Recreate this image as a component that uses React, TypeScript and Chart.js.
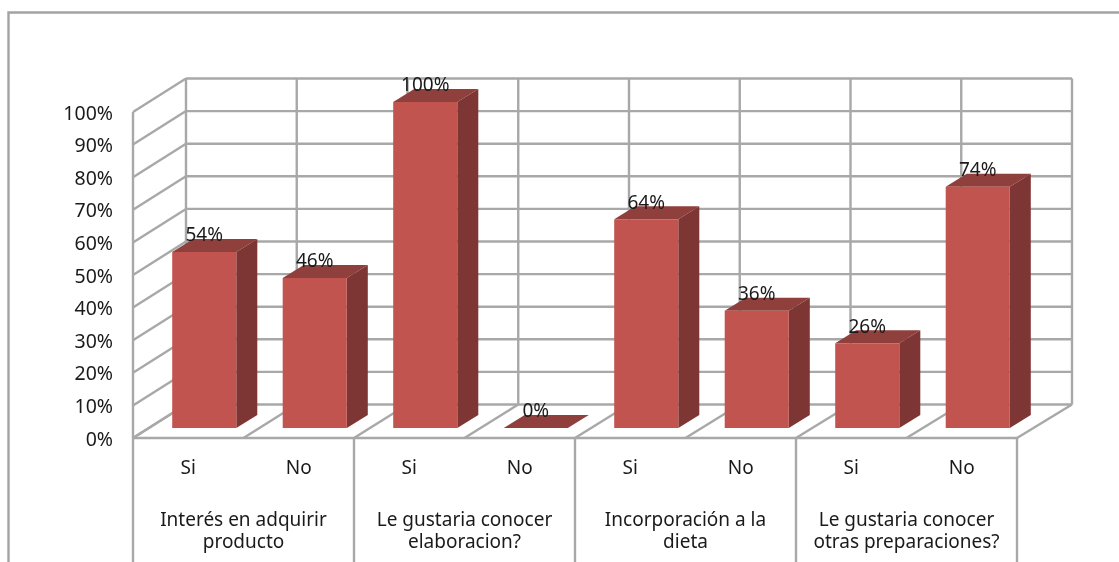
import React, { useEffect, useRef } from "react";
import { Chart, registerables } from "chart.js";

Chart.register(...registerables);

const categories = ["Si", "No", "Si", "No", "Si", "No", "Si", "No"];
const values = [54, 46, 100, 0, 64, 36, 26, 74];
const groups = [
  ["Interés en adquirir", "producto"],
  ["Le gustaria conocer", "elaboracion?"],
  ["Incorporación a la", "dieta"],
  ["Le gustaria conocer", "otras preparaciones?"],
];

const GRID = "#a8a8a8";
const WALL = { dxLeft: 53, dxRight: 55, dy: -33.5 };
const BAR_SHIFT = { dx: 16, dy: -10 };
const BAR_DEPTH = { dx: 21, dy: -13 };
const FONT = "'Noto Sans'";

const line = (c: CanvasRenderingContext2D, a: number, b: number, d: number, e: number) => {
  c.beginPath();
  c.moveTo(a, b);
  c.lineTo(d, e);
  c.stroke();
};

const scene = {
  id: "scene",
  beforeDraw(chart: any) {
    const c = chart.ctx;
    const { x, y } = chart.scales;
    const n = categories.length;
    const step = (x.right - x.left) / n;
    const backLeft = x.left + WALL.dxLeft;
    const backRight = x.right + WALL.dxRight;
    const backStep = (backRight - backLeft) / n;
    c.save();
    c.fillStyle = "#ffffff";
    c.fillRect(0, 0, chart.width, chart.height);
    c.strokeStyle = "#a3a3a3";
    c.lineWidth = 2.4;
    c.beginPath();
    c.moveTo(8.5, chart.height);
    c.lineTo(8.5, 12.5);
    c.lineTo(chart.width, 12.5);
    c.stroke();

    c.strokeStyle = GRID;
    c.lineWidth = 2.4;
    y.ticks.forEach((t: any) => {
      const py = y.getPixelForValue(t.value);
      line(c, x.left, py, backLeft, py + WALL.dy);
      line(c, backLeft, py + WALL.dy, backRight, py + WALL.dy);
    });
    for (let i = 0; i <= n; i++) {
      const back = backLeft + backStep * i;
      line(c, back, y.top + WALL.dy, back, y.bottom + WALL.dy);
      line(c, x.left + step * i, y.bottom, back, y.bottom + WALL.dy);
    }
    line(c, x.left, y.top, x.left, y.bottom);
    line(c, x.left, y.bottom, x.right, y.bottom);
    for (let i = 0; i <= groups.length; i++) {
      const px = x.left + ((x.right - x.left) * i) / groups.length;
      line(c, px, y.bottom, px, chart.height);
    }
    c.restore();
  },
  beforeDatasetsDraw(chart: any) {
    const c = chart.ctx;
    c.save();
    c.translate(BAR_SHIFT.dx, BAR_SHIFT.dy);
    chart.getDatasetMeta(0).data.forEach((bar: any) => {
      const l = bar.x - bar.width / 2;
      const r = bar.x + bar.width / 2;
      const t = bar.y;
      const b = bar.base;
      c.fillStyle = "#8f3f3c";
      c.beginPath();
      c.moveTo(l, t);
      c.lineTo(r, t);
      c.lineTo(r + BAR_DEPTH.dx, t + BAR_DEPTH.dy);
      c.lineTo(l + BAR_DEPTH.dx, t + BAR_DEPTH.dy);
      c.closePath();
      c.fill();
      c.fillStyle = "#7d3634";
      c.beginPath();
      c.moveTo(r, t);
      c.lineTo(r + BAR_DEPTH.dx, t + BAR_DEPTH.dy);
      c.lineTo(r + BAR_DEPTH.dx, b + BAR_DEPTH.dy);
      c.lineTo(r, b);
      c.closePath();
      c.fill();
    });
  },
  afterDatasetsDraw(chart: any) {
    const c = chart.ctx;
    c.restore();
    c.save();
    c.fillStyle = "#1a1a1a";
    c.textAlign = "center";
    c.textBaseline = "middle";
    c.font = `19px ${FONT}`;
    chart.getDatasetMeta(0).data.forEach((bar: any, i: number) => {
      c.fillText(`${values[i]}%`, bar.x + BAR_SHIFT.dx, bar.y + BAR_SHIFT.dy - 16);
    });
    const { x, y } = chart.scales;
    const w = (x.right - x.left) / groups.length;
    groups.forEach((g, i) => {
      g.forEach((text, j) => {
        c.fillText(text, x.left + w * (i + 0.5), y.bottom + 83 + j * 22);
      });
    });
    c.restore();
  },
};

export default function App() {
  const ref = useRef<HTMLCanvasElement>(null);
  useEffect(() => {
    const chart = new Chart(ref.current!, {
      type: "bar",
      data: {
        labels: categories,
        datasets: [
          {
            data: values,
            backgroundColor: "#c1544f",
            borderWidth: 0,
            barPercentage: 0.58,
            categoryPercentage: 1,
            clip: false as any,
          },
        ],
      },
      options: {
        responsive: false,
        animation: false,
        layout: { padding: { top: 112, right: 102, left: 0, bottom: 0 } },
        plugins: { legend: { display: false }, tooltip: { enabled: false }, title: { display: false } },
        scales: {
          x: {
            afterFit: (s: any) => { s.height = 124; },
            grid: { display: false },
            border: { display: false },
            ticks: { color: "#1a1a1a", font: { family: FONT, size: 19 }, padding: 11, maxRotation: 0, autoSkip: false },
          },
          y: {
            min: 0,
            max: 100,
            afterFit: (s: any) => { s.width = 133; },
            grid: { display: false, drawTicks: false },
            border: { display: false },
            ticks: {
              stepSize: 10,
              color: "#1a1a1a",
              font: { family: FONT, size: 19.5 },
              padding: 20,
              labelOffset: 2,
              callback: (v: any) => `${v}%`,
            },
          },
        },
      },
      plugins: [scene],
    });
    return () => chart.destroy();
  }, []);
  return (
    <canvas
      ref={ref}
      width={1119}
      height={562}
      style={{ position: "absolute", left: 0, top: 0, width: 1119, height: 562, display: "block" }}
    />
  );
}
